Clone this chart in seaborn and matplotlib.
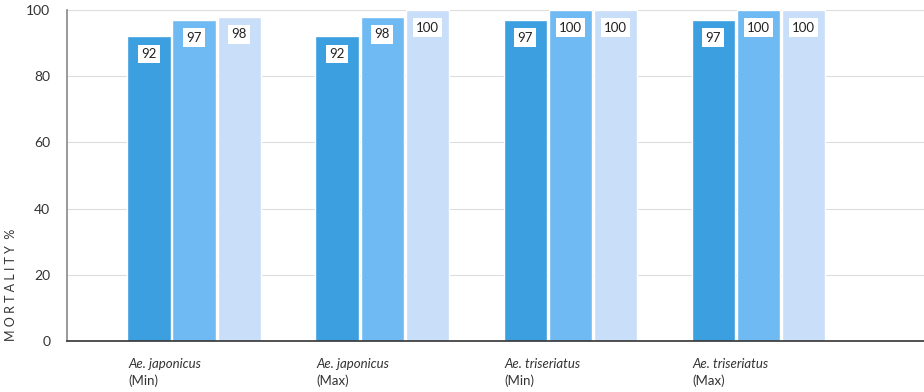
import pandas as pd
import matplotlib
matplotlib.use("Agg")
import matplotlib.pyplot as plt
import seaborn as sns

# data
species = ["Ae. japonicus", "Ae. japonicus", "Ae. triseriatus", "Ae. triseriatus"]
conditions = ["(Min)", "(Max)", "(Min)", "(Max)"]
series = ["A", "B", "C"]
values_a = [92, 92, 97, 97]
values_b = [97, 98, 100, 100]
values_c = [98, 100, 100, 100]
y_ticks = [0, 20, 40, 60, 80, 100]

groups = [f"{s}\n{c}" for s, c in zip(species, conditions)]
df = pd.DataFrame({
    "group": groups * 3,
    "series": [s for s in series for _ in groups],
    "mortality": values_a + values_b + values_c,
})

sns.set_style("white")
plt.rcParams["font.family"] = ["Lato", "DejaVu Sans"]

fig, ax = plt.subplots(figsize=(9.24, 3.92), dpi=100)
fig.subplots_adjust(left=67 / 924, right=1.0, bottom=(392 - 341) / 392, top=(392 - 10) / 392)

palette = ["#3b9fe0", "#6fbaf3", "#c9def8"]
sns.barplot(data=df, x="group", y="mortality", hue="series", palette=palette,
            width=0.72, gap=0.04, saturation=1, legend=False, ax=ax, zorder=2)

# value boxes near the bar tops
for cont in ax.containers:
    ax.bar_label(cont, fmt="%d", padding=-17, fontsize=9.5, color="#222222",
                 bbox=dict(boxstyle="square,pad=0.25", fc="white", ec="none"))

ax.set_ylim(0, 100)
ax.set_xlim(-0.676, 3.88)
ax.set_yticks(y_ticks)
ax.tick_params(axis="y", labelsize=10, colors="#333333", length=0, pad=12)
ax.yaxis.grid(True, color="#dddddd", linewidth=0.8, zorder=0)
ax.set_axisbelow(True)
ax.set_xticks(range(len(groups)))
ax.set_xticklabels([])
ax.tick_params(axis="x", length=0)
ax.set_xlabel("")
ax.set_ylabel("M O R T A L I T Y  %", fontsize=9, color="#333333")
ax.yaxis.set_label_coords(-0.058, 0.17)

for side in ["top", "right"]:
    ax.spines[side].set_visible(False)
ax.spines["left"].set_color("#888888")
ax.spines["left"].set_linewidth(1.2)
ax.spines["bottom"].set_color("#333333")
ax.spines["bottom"].set_linewidth(1.2)

# two-line category labels under each group
trans = ax.get_xaxis_transform()
for i, (s, c) in enumerate(zip(species, conditions)):
    ax.text(i - 0.35, -0.052, s, transform=trans, ha="left", va="top",
            fontsize=9.5, style="italic", color="#333333")
    ax.text(i - 0.35, -0.1, c, transform=trans, ha="left", va="top",
            fontsize=9.5, color="#333333")

plt.savefig("out.png", dpi=100)
